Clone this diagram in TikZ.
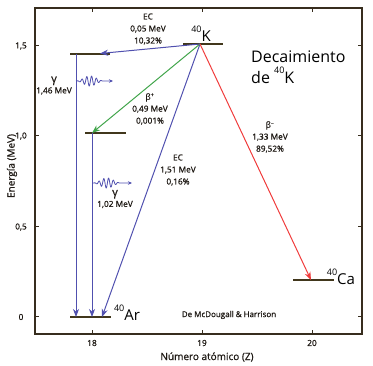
\documentclass[tikz,border=0pt]{standalone}
\usepackage{fontspec}
\setmainfont{Open Sans}
\newfontfamily\labfont{Open Sans}[FakeBold=0.8]
\usetikzlibrary{arrows.meta,positioning}
\definecolor{axiscol}{RGB}{55,45,30}
\definecolor{levelcol}{RGB}{65,55,28}
\definecolor{txtcol}{RGB}{30,25,20}
\definecolor{ecblue}{RGB}{80,80,175}
\definecolor{betagreen}{RGB}{65,165,75}
\definecolor{betared}{RGB}{240,60,60}
\newcommand{\iso}[2]{\raisebox{0.6em}{\fontsize{9}{9}\selectfont #1}#2}
\tikzset{
  frame/.style={draw=axiscol, line width=1.4pt},
  axtick/.style={draw=axiscol, line width=1pt},
  level/.style={draw=levelcol, line width=1.2pt},
  decay/.style={line width=1pt, -{Stealth[length=8pt,width=6pt,inset=2.5pt]}},
  wave/.style={draw=ecblue, line width=0.8pt, -{Stealth[length=4pt,width=3.5pt]}},
  lab/.style={text=txtcol, font=\labfont\fontsize{8.3}{12}\selectfont, align=center, inner sep=0pt},
  nuc/.style={text=black, font=\fontsize{15}{17}\selectfont, inner sep=0pt},
}
\begin{document}
\begin{tikzpicture}[x=1pt,y=-1pt]
\useasboundingbox (0,0) rectangle (373,366);

% frame and ticks
\draw[frame] (35,8) rectangle (362,334);
\foreach \y/\lab in {46/{1,5},136/{1,0},227/{0,5},317/0} {
  \draw[axtick] (35,\y) -- ++(4,0);
  \draw[axtick] (362,\y) -- ++(-4,0);
  \node[lab] (ylab\y) at (21,\y) {\lab};
}
\foreach \x/\lab in {92/18,202/19,312/20} {
  \draw[axtick] (\x,8) -- ++(0,4);
  \draw[axtick] (\x,334) -- ++(0,-4);
  \node[lab] (xlab\x) at (\x,343) {\lab};
}
\node[lab, font=\labfont\fontsize{10}{12}\selectfont, rotate=90] (ytitle) at (12,166) {Energía (MeV)};
\node[lab, font=\labfont\fontsize{10}{12}\selectfont] (xtitle) at (207,357) {Número atómico (Z)};

% levels
\coordinate (K) at (200,44);
\coordinate (Ar146) at (76,54);
\coordinate (ecend) at (100,53.5);
\coordinate (Ar102) at (92,133);
\coordinate (gsA) at (76,317);
\coordinate (gsB) at (92,317);
\coordinate (gsC) at (102,317);
\coordinate (Ca) at (311,280);
\draw[level] (183,44) -- (223,44);
\draw[level] (70,54) -- (110,54);
\draw[level] (85,133) -- (126,133);
\draw[level] (70,317) -- (111,317);
\draw[level] (293,280) -- (334,280);

% decays
\draw[decay, ecblue] (K) -- (ecend);
\draw[decay, betagreen] (K) -- (Ar102);
\draw[decay, ecblue] (K) -- (gsC);
\draw[decay, betared] (K) -- (Ca);
\draw[decay, ecblue] (Ar146) -- (gsA);
\draw[decay, ecblue] (Ar102) -- (gsB);

% photons
\draw[wave, shift={(76,81)}] plot[domain=0:28, samples=120]
  (\x, {-5*sin(6.43*\x)*sin(6.43*\x)*sin(75*\x)}) -- (37,0);
\draw[wave, shift={(93,183)}] plot[domain=0:28, samples=120]
  (\x, {-5*sin(6.43*\x)*sin(6.43*\x)*sin(75*\x)}) -- (39,0);

% labels
\node[lab] (ec1) at (148,29) {EC\\0,05 MeV\\10,32\%};
\node[lab] (bp) at (150,109) {β\textsuperscript{+}\\0,49 MeV\\0,001\%};
\node[lab] (ec2) at (178,170) {EC\\1,51 MeV\\0,16\%};
\node[lab] (bm) at (270,137) {β\textsuperscript{–}\\1,33 MeV\\89,52\%};
\node[lab, font=\labfont\fontsize{8.3}{11}\selectfont] (g1) at (54,85.5) {{\fontsize{11}{11}\selectfont γ}\\1,46 MeV};
\node[lab, font=\labfont\fontsize{8.3}{11}\selectfont] (g2) at (115,199) {{\fontsize{11}{11}\selectfont γ}\\1,02 MeV};
\node[nuc] (Klab) at (201,34) {\iso{40}{K}};
\node[nuc] (Arlab) at (127,313) {\iso{40}{Ar}};
\node[nuc] (Calab) at (341,277) {\iso{40}{Ca}};
\node[nuc, font=\fontsize{16}{21}\selectfont, align=left, anchor=west] (title) at (251,67) {Decaimiento\\de \iso{40}{K}};
\node[lab, font=\labfont\fontsize{8}{10}\selectfont] (src) at (229,315) {De McDougall \& Harrison};
\end{tikzpicture}
\end{document}
